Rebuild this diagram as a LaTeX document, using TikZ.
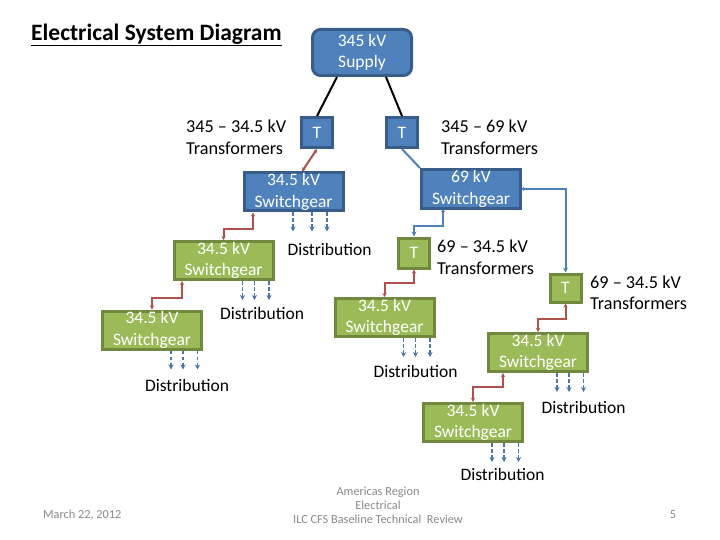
\documentclass[tikz,border=0pt]{standalone}
\usepackage{fontspec}
\setmainfont{Carlito}
\usetikzlibrary{calc,arrows.meta}
\definecolor{bfill}{HTML}{4F81BD}
\definecolor{bdraw}{HTML}{385D8A}
\definecolor{gfill}{HTML}{9BBB59}
\definecolor{gdraw}{HTML}{71893F}
\definecolor{redline}{HTML}{B0504D}
\definecolor{blueline}{HTML}{4F81BD}
\definecolor{distblue}{HTML}{4A76A8}
\definecolor{footgray}{HTML}{8A8A8A}
\tikzset{
  base/.style={font=\fontsize{17.5}{21.5}\selectfont, inner sep=0pt, align=center},
  bluebox/.style={base, fill=bfill, draw=bdraw, line width=3pt, text=white},
  greenbox/.style={base, fill=gfill, draw=gdraw, line width=3pt, text=white},
  sgbox/.style={minimum width=99pt, minimum height=38pt},
  tbox/.style={minimum width=31pt, minimum height=30pt},
  lbl/.style={base, font=\fontsize{18.2}{21.5}\selectfont, align=left, anchor=west},
  distlbl/.style={base},
  feed/.style={line width=2pt},
  redconn/.style={draw=redline, line width=2pt, {Stealth[length=4pt,width=4pt]}-{Stealth[length=4pt,width=4pt]}},
  blueconn/.style={draw=blueline, line width=2pt, {Circle[length=3pt]}-{Stealth[length=5pt,width=5pt]}},
  distarrow/.style={draw=distblue, line width=1.8pt, dash pattern=on 3.5pt off 2.5pt, -{Stealth[length=5pt,width=5pt]}},
  foot/.style={font=\fontsize{12.3}{14}\selectfont, text=footgray, inner sep=0pt}
}
\begin{document}
\begin{tikzpicture}[x=1pt,y=-1pt]
\useasboundingbox (0,0) rectangle (720,540);
\fill[white] (0,0) rectangle (720,540);

% title
\node[inner sep=0pt, anchor=west, font=\fontsize{23.5}{26}\selectfont\bfseries] (title) at (31,35) {\underline{Electrical System Diagram}};

% supply
\node[bluebox, rounded corners=8pt, minimum width=99pt, minimum height=46pt] (sup) at (362,52.5) {345 kV\\Supply};

% blue transformers
\node[bluebox, tbox] (Tl) at (317,132.5) {T};
\node[bluebox, tbox] (Tr) at (402,132.5) {T};
\node[lbl] (Tllbl) at (186,137) {345 -- 34.5 kV\\Transformers};
\node[lbl] (Trlbl) at (441,137) {345 -- 69 kV\\Transformers};

% switchgears
\node[bluebox, sgbox] (sg1) at (293.5,192) {34.5 kV\\Switchgear};
\node[bluebox, sgbox, minimum height=39pt] (sg69) at (471,189) {69 kV\\Switchgear};

% green transformers
\node[greenbox, tbox] (Tg1) at (414,253) {T};
\node[greenbox, tbox, minimum height=28pt] (Tg2) at (565.5,288) {T};
\node[lbl] (Tg1lbl) at (437,257) {69 -- 34.5 kV\\Transformers};
\node[lbl] (Tg2lbl) at (590,292.5) {69 -- 34.5 kV\\Transformers};

% green switchgears
\node[greenbox, sgbox] (A) at (223.5,260.5) {34.5 kV\\Switchgear};
\node[greenbox, sgbox] (B) at (152,330) {34.5 kV\\Switchgear};
\node[greenbox, sgbox] (C) at (384.5,317.5) {34.5 kV\\Switchgear};
\node[greenbox, sgbox] (D) at (538,352.5) {34.5 kV\\Switchgear};
\node[greenbox, sgbox] (E) at (473,422.5) {34.5 kV\\Switchgear};

% supply feeders
\draw[feed] ($(sup.south)+(-25,0)$) -- (Tl.north);
\draw[feed] ($(sup.south)+(24,0)$) -- (Tr.north);

% transformer to switchgear
\draw[redconn] (Tl.south) -- ($(sg1.north)+(8.5,0)$);
\draw[draw=blueline, line width=2pt] (Tr.south) -- (sg69.north west);

% 69 kV feeders
\draw[blueconn] (sg69.east) -| (Tg2.north);
\draw[blueconn] ($(sg69.south)+(-28,0)$) -- ++(0,16) -| (Tg1.north);

% red connectors
\draw[redconn] (Tg1.south) -- ++(0,13) -| (C.north);
\draw[redconn] (A.north) -- ++(0,-11) -| ($(sg1.south)+(-40.5,0)$);
\draw[redconn] (B.north) -- ++(0,-12) -| ($(A.south)+(-41.5,0)$);
\draw[redconn] (Tg2.south) -- ++(0,15) -| (D.north);
\draw[redconn] (E.north) -- ++(0,-15) -| ($(D.south)+(-35,0)$);

% distribution arrows
\foreach \dx in {-0.5,18.5,33.5} \draw[distarrow] ($(sg1.south)+(\dx,0)$) -- ++(0,19);
\foreach \n in {A,B,C,D,E}
  \foreach \dx in {19,31,45.5} \draw[distarrow] ($(\n.south)+(\dx,0)$) -- ++(0,19);

% distribution labels
\node[distlbl] (d1) at (329.5,249) {Distribution};
\node[distlbl] (dA) at (262,313) {Distribution};
\node[distlbl] (dB) at (187,385) {Distribution};
\node[distlbl] (dC) at (415.5,371) {Distribution};
\node[distlbl] (dD) at (583.5,407) {Distribution};
\node[distlbl] (dE) at (502.5,474) {Distribution};

% footer
\node[foot, anchor=west] (date) at (43,515) {March 22, 2012};
\node[foot, align=center] (region) at (378,505) {Americas Region\\Electrical\\ILC CFS Baseline Technical\ \ Review};
\node[foot] (page) at (673,515) {5};
\end{tikzpicture}
\end{document}
